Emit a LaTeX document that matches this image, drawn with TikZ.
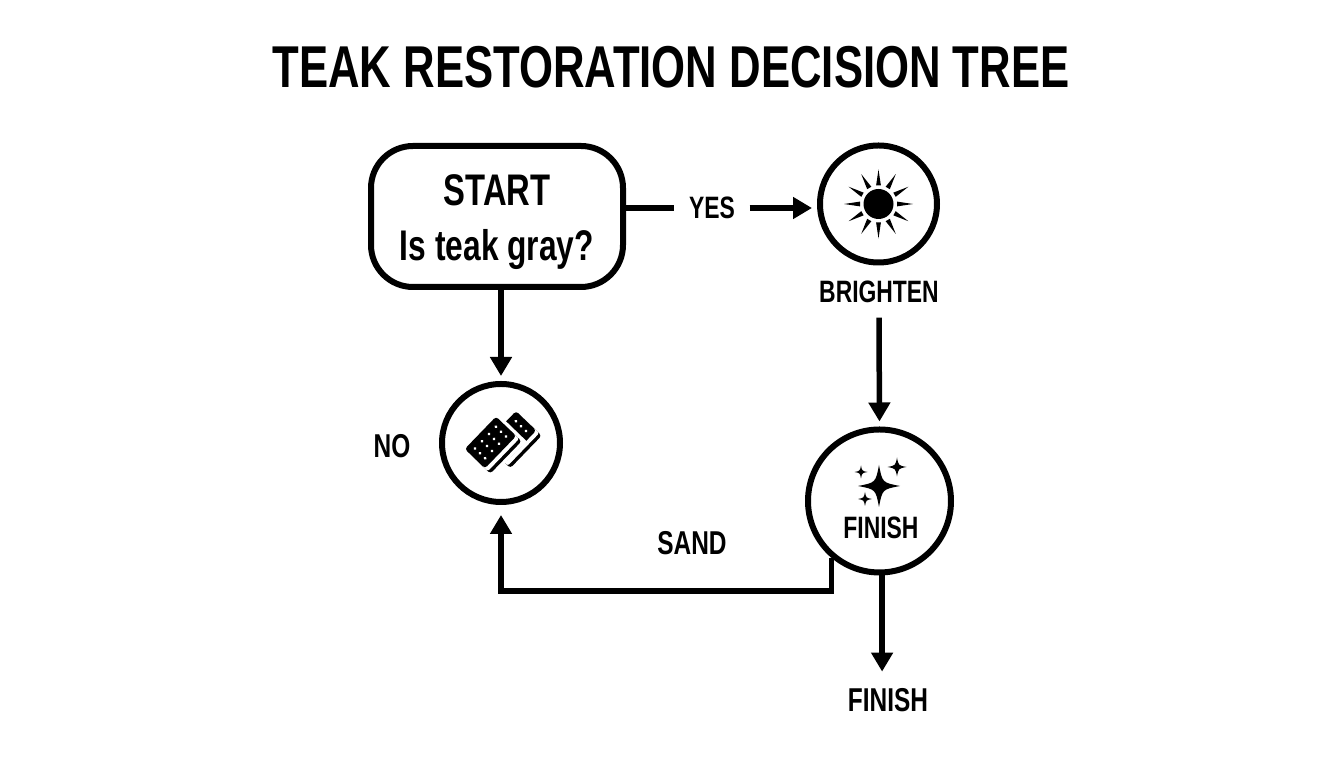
\documentclass[tikz,border=0pt]{standalone}
\usepackage{fontspec}
\setmainfont{Liberation Sans}[FakeStretch=0.74]
\usetikzlibrary{arrows.meta}
\tikzset{
    ringnode/.style={draw,circle,line width=0.06cm,minimum size=#1},
    label/.style={font=\fontsize{8.8}{11}\selectfont\bfseries,inner sep=0.14cm},
    biglabel/.style={font=\fontsize{9.4}{11}\selectfont\bfseries,inner sep=0.14cm},
    flow/.style={line width=0.055cm,-{Triangle[length=0.19cm,width=0.21cm]}},
    sparkle/.pic={
        \fill (0,1) .. controls (0.16,0.16) .. (1,0) .. controls (0.16,-0.16) .. (0,-1)
            .. controls (-0.16,-0.16) .. (-1,0) .. controls (-0.16,0.16) .. (0,1) -- cycle;
    },
    sandblock/.pic={
        \fill[white] (-0.26,-0.25) rectangle (0.26,0.17);
        \fill[rounded corners=0.03cm] (-0.225,-0.215) rectangle (0.225,0);
        \fill[white,rounded corners=0.02cm] (-0.225,-0.18) rectangle (0.225,0);
        \fill[rounded corners=0.03cm] (-0.225,-0.14) rectangle (0.225,0.14);
        \foreach \x in {-0.15,-0.05,0.05,0.15} {
            \foreach \y in {-0.07,0,0.07} {
                \fill[white] (\x,\y) circle (0.016);
            }
        }
    },
}
\begin{document}
\begin{tikzpicture}
\useasboundingbox (0,0) rectangle (13.44,7.68);

% place title
\node (title) [font=\fontsize{16.8}{20}\selectfont\bfseries] at (6.71,7.01) {TEAK RESTORATION DECISION TREE};

% place start box
\node (start) [draw,rounded corners=0.42cm,line width=0.06cm,minimum width=2.52cm,minimum height=1.41cm,
    align=center,font=\fontsize{12.6}{15.6}\selectfont\bfseries] at (4.97,5.515)
    {\rule{0pt}{0.42cm}START\\\fontsize{12.2}{15.6}\selectfont Is teak gray?};

% place circles
\node (sun) [ringnode=1.17cm] at (8.785,5.64) {};
\node (sand) [ringnode=1.18cm] at (5.01,3.25) {};
\node (finish) [ringnode=1.43cm] at (8.795,2.67) {};

% place labels
\node (yes) [label] at (7.12,5.60) {YES};
\node (brighten) [label] at (8.79,4.76) {BRIGHTEN};
\node (no) [biglabel] at (3.92,3.22) {NO};
\node (sandlabel) [biglabel] at (6.92,2.25) {SAND};
\node (finishtext) [label] at (8.81,2.40) {FINISH};
\node (end) [biglabel] at (8.88,0.68) {FINISH};
\coordinate (bend) at (5.01,1.77);

% draw sun
\fill (sun) circle (0.15);
\foreach \a in {0,30,...,330} {
    \fill[shift={(sun)},rotate=\a] (0.185,-0.024) -- (0.345,0) -- (0.185,0.024) -- cycle;
}

% draw sparkles
\foreach \x/\y/\r in {8.79/2.82/0.21,8.97/3.01/0.095,8.61/2.96/0.065,8.65/2.69/0.07} {
    \pic[xscale=\r,yscale=\r] at (\x,\y) {sparkle};
}

% draw sanding blocks
\pic[rotate=46] at (5.105,3.31) {sandblock};
\pic[rotate=46] at (4.905,3.255) {sandblock};

% draw connectors
\draw [line width=0.055cm] (start.east |- yes.west) -- (yes.west);
\draw [flow,shorten >=0.05cm] (yes.east) -- (sun.west |- yes.east);
\draw [flow,shorten >=0.05cm] (start.south -| sand.north) -- (sand.north);
\draw [flow,shorten >=0.05cm] (brighten.south) -- (finish.north);
\draw [flow,shorten >=0.1cm] (finish.-130) |- (bend) -- (sand.south);
\draw [flow,shorten >=0.02cm] (finish.-88) -- (finish.-88 |- end.north);

\end{tikzpicture}
\end{document}
